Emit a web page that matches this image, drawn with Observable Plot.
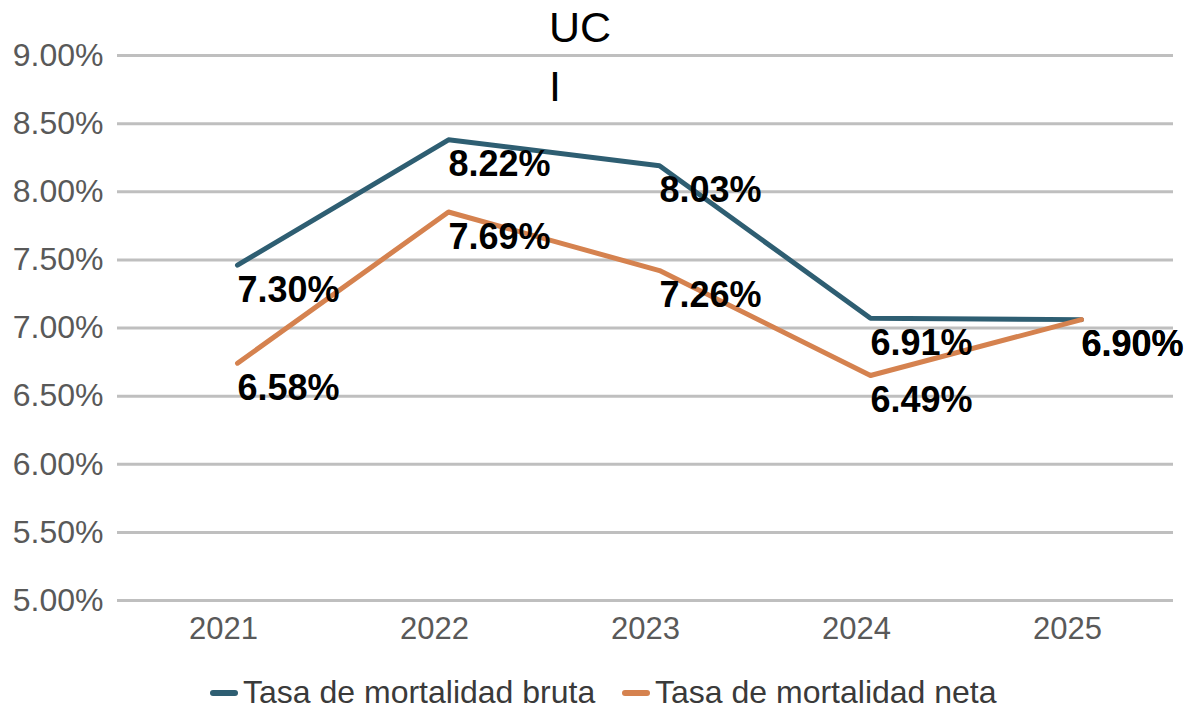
<!DOCTYPE html>
<html>
<head>
<meta charset="utf-8">
<script src="https://cdn.jsdelivr.net/npm/d3@7"></script>
<script src="https://cdn.jsdelivr.net/npm/@observablehq/plot@0.6"></script>
<style>
  html, body { margin: 0; padding: 0; background: #fff; }
  #wrap { position: relative; width: 1188px; height: 712px; font-family: "Liberation Sans", Arial, sans-serif; overflow: hidden; }
  #title { position: absolute; left: 549px; top: -2px; font-size: 43px; line-height: 59px; color: #000; width: 80px; z-index: 2; }
  #legend { position: absolute; left: 0; top: 660px; width: 1188px; height: 52px; }
  .item { position: absolute; top: 14px; display: flex; align-items: center; font-size: 32px; color: #3a3a3a; white-space: nowrap; }
  .sw { display: inline-block; width: 28px; height: 6px; border-radius: 3px; margin-right: 5px; }
</style>
</head>
<body>
<div id="wrap">
  <div id="chart"></div>
  <div id="title">UC<br>I</div>
  <div id="legend"></div>
</div>
<script>
const years = ["2021", "2022", "2023", "2024", "2025"];
const seriesNames = ["Tasa de mortalidad bruta", "Tasa de mortalidad neta"];
const bruta = [7.30, 8.22, 8.03, 6.91, 6.90];
const neta = [6.58, 7.69, 7.26, 6.49, 6.90];
const yTicks = [5.0, 5.5, 6.0, 6.5, 7.0, 7.5, 8.0, 8.5, 9.0];
const colors = ["#2e5e72", "#d5824f"];

const data = [];
years.forEach((y, i) => data.push({year: y, value: bruta[i], series: seriesNames[0]}));
years.forEach((y, i) => data.push({year: y, value: neta[i], series: seriesNames[1]}));

const fmt = d => d.toFixed(2) + "%";

const chart = Plot.plot({
  width: 1188,
  height: 660,
  marginLeft: 117,
  marginRight: 15,
  marginTop: 55,
  marginBottom: 60,
  style: {fontFamily: "'Liberation Sans', Arial, sans-serif", background: "#fff", color: "#595959", overflow: "visible"},
  x: {type: "point", domain: years, padding: 0.5},
  y: {domain: [5, 9]},
  color: {domain: seriesNames, range: colors},
  marks: [
    Plot.ruleY(yTicks, {stroke: "#bfbfbf", strokeWidth: 3}),
    Plot.axisY({ticks: yTicks, tickFormat: fmt, tickSize: 0, tickPadding: 14, fontSize: 32, fill: "#595959", label: null}),
    Plot.axisX({tickSize: 0, tickPadding: 16, fontSize: 31, fill: "#595959", label: null}),
    Plot.line(data, {x: "year", y: "value", z: "series", stroke: "series", strokeWidth: 5, strokeLinejoin: "round", dx: 14, dy: -22}),
    Plot.text(data, {x: "year", y: "value", text: d => fmt(d.value), textAnchor: "start", dx: 14, dy: 3, fontSize: 36, fontWeight: "bold", fill: "#000"})
  ]
});
document.getElementById("chart").appendChild(chart);

const legend = document.getElementById("legend");
const lefts = [210, 622];
seriesNames.forEach((name, i) => {
  const it = document.createElement("div");
  it.className = "item";
  it.style.left = lefts[i] + "px";
  const sw = document.createElement("span");
  sw.className = "sw";
  sw.style.background = colors[i];
  it.appendChild(sw);
  it.appendChild(document.createTextNode(name));
  legend.appendChild(it);
});
</script>
</body>
</html>
